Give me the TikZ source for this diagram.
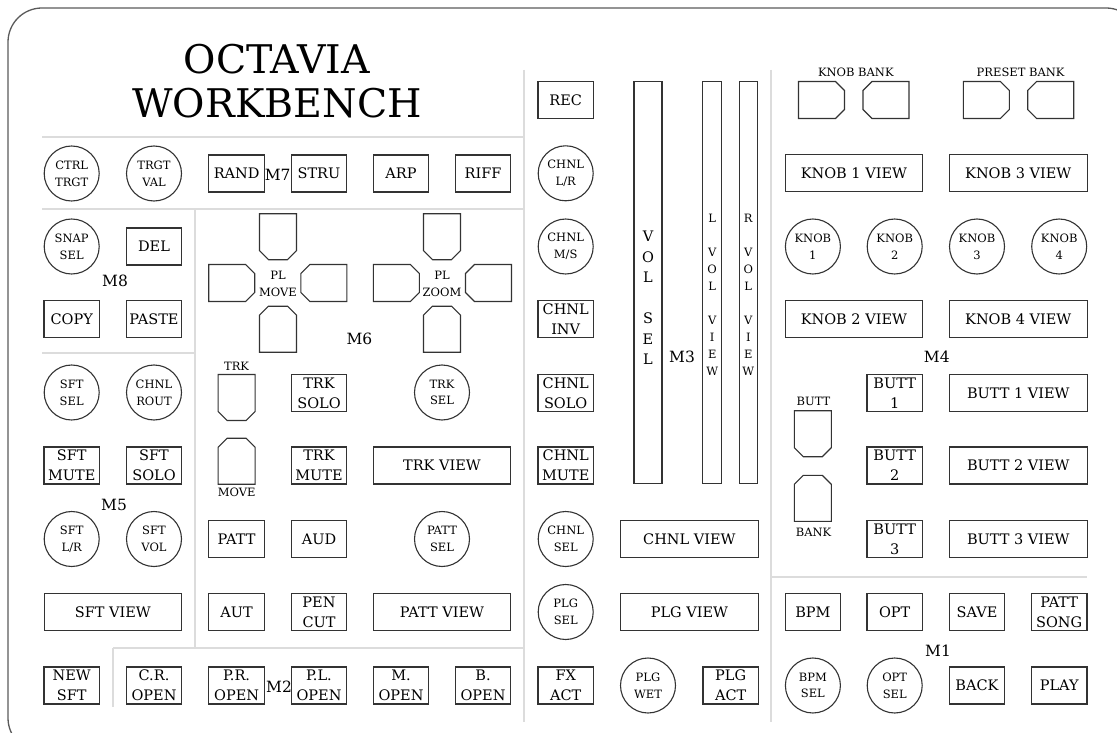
\documentclass[tikz,border=0pt]{standalone}
\usepackage{fontspec}
\setmainfont{DejaVu Serif}
\usepackage{tikz}

\definecolor{keyclr}{HTML}{333333}
\definecolor{ruleclr}{HTML}{DCDCDC}
\definecolor{rimclr}{HTML}{5A5A5A}

\begin{document}
\begin{tikzpicture}[x=1pt, y=-1pt,
    btn/.style={rectangle, draw=keyclr, line width=1.1pt, minimum width=55.5pt, minimum height=37pt, inner sep=0pt, align=center, font=\fontsize{14.5}{20}\selectfont},
    widebtn/.style={btn, minimum width=137.5pt},
    knob/.style={circle, draw=keyclr, line width=1.1pt, minimum size=55pt, inner sep=0pt, align=center, font=\fontsize{11.5}{16.7}\selectfont},
    tag/.style={inner sep=0pt, align=center, font=\fontsize{11.5}{16.7}\selectfont},
    modname/.style={inner sep=0pt, font=\fontsize{15.5}{18}\selectfont},
    fader/.style={rectangle, draw=keyclr, line width=1.1pt, minimum height=402pt, inner sep=0pt},
    faderlbl/.style={inner sep=0pt, align=center, font=\fontsize{11.5}{17}\selectfont},
    title/.style={inner sep=0pt, align=center, font=\fontsize{39.5}{43.7}\selectfont},
    sep/.style={draw=ruleclr, line width=1.5pt},
    padkey/.pic={\draw[draw=keyclr, line width=1.1pt] (-18.5,-23) -- (18.5,-23) -- (18.5,14) -- (9.5,23) -- (-9.5,23) -- (-18.5,14) -- cycle;},
]
    \useasboundingbox (0,0) rectangle (1117,733);
    \draw[rimclr, line width=1.3pt, rounded corners=34pt] (8,8) rectangle (1140,752);

    % module borders
    \draw[sep] (42,137) -- (524,137);
    \draw[sep] (42,209) -- (524,209);
    \draw[sep] (195,209) -- (195,648);
    \draw[sep] (42,353) -- (195,353);
    \draw[sep] (113,648) -- (524,648) (113,648) -- (113,707);
    \draw[sep] (524,70) -- (524,722);
    \draw[sep] (771,70) -- (771,722);
    \draw[sep] (771,577) -- (1087,577);

    \node[title] (title) at (277,81) {OCTAVIA\\WORKBENCH};

    % M7
    \node[knob] (ctrltrgt) at (71.7,173.5) {CTRL\\TRGT};
    \node[knob] (trgtval) at (154,173.5) {TRGT\\VAL};
    \node[btn] (rand) at (236.6,173.5) {RAND};
    \node[modname] (m7) at (277.7,175) {M7};
    \node[btn] (stru) at (319,173.5) {STRU};
    \node[btn] (arp) at (401,173.5) {ARP};
    \node[btn] (riff) at (483,173.5) {RIFF};

    % M8
    \node[knob] (snapsel) at (71.7,246.5) {SNAP\\SEL};
    \node[btn] (del) at (154,246.5) {DEL};
    \node[modname] (m8) at (115,281) {M8};
    \node[btn] (copy) at (71.7,319.3) {COPY};
    \node[btn] (paste) at (154,319.3) {PASTE};

    % M6
    \pic (pmup) at (278,236.7) {padkey};
    \pic[rotate=90] (pmleft) at (231.7,283) {padkey};
    \pic[rotate=-90] (pmright) at (323.8,283) {padkey};
    \pic[rotate=180] (pmdown) at (278,329.2) {padkey};
    \node[tag] (plmove) at (278,284) {PL\\MOVE};
    \pic (pzup) at (442,236.7) {padkey};
    \pic[rotate=90] (pzleft) at (396.3,283) {padkey};
    \pic[rotate=-90] (pzright) at (488.5,283) {padkey};
    \pic[rotate=180] (pzdown) at (442,329.2) {padkey};
    \node[tag] (plzoom) at (442,284) {PL\\ZOOM};
    \node[modname] (m6) at (359.4,339) {M6};

    \pic (trkkey) at (236.6,397.5) {padkey};
    \node[tag] (trk) at (236.6,366.7) {TRK};
    \pic[rotate=180] (movekey) at (236.6,461.2) {padkey};
    \node[tag] (move) at (236.6,492.7) {MOVE};
    \node[btn] (trksolo) at (319,393) {TRK\\SOLO};
    \node[knob] (trksel) at (442,392.5) {TRK\\SEL};
    \node[btn] (trkmute) at (319,465.5) {TRK\\MUTE};
    \node[widebtn] (trkview) at (442,465.5) {TRK VIEW};
    \node[btn] (patt) at (236.6,539) {PATT};
    \node[btn] (aud) at (319,539) {AUD};
    \node[knob] (pattsel) at (442,539) {PATT\\SEL};
    \node[btn] (aut) at (236.6,612) {AUT};
    \node[btn] (pencut) at (319,612) {PEN\\CUT};
    \node[widebtn] (pattview) at (442,612) {PATT VIEW};

    % M5
    \node[knob] (sftsel) at (71.7,392.5) {SFT\\SEL};
    \node[knob] (chnlrout) at (154,392.5) {CHNL\\ROUT};
    \node[btn] (sftmute) at (71.7,465.5) {SFT\\MUTE};
    \node[btn] (sftsolo) at (154,465.5) {SFT\\SOLO};
    \node[modname] (m5) at (114,505) {M5};
    \node[knob] (sftlr) at (71.7,539) {SFT\\L/R};
    \node[knob] (sftvol) at (154,539) {SFT\\VOL};
    \node[widebtn] (sftview) at (112.8,612) {SFT VIEW};
    \node[btn] (newsft) at (71.7,685.5) {NEW\\SFT};

    % M2
    \node[btn] (cropen) at (154,685.5) {C.R.\\OPEN};
    \node[btn] (propen) at (236.6,685.5) {P.R.\\OPEN};
    \node[modname] (m2) at (279,687) {M2};
    \node[btn] (plopen) at (319,685.5) {P.L.\\OPEN};
    \node[btn] (mopen) at (401,685.5) {M.\\OPEN};
    \node[btn] (bopen) at (483,685.5) {B.\\OPEN};

    % M3
    \node[btn] (rec) at (565.7,100) {REC};
    \node[knob] (chnllr) at (565.7,173.3) {CHNL\\L/R};
    \node[knob] (chnlms) at (565.7,246.5) {CHNL\\M/S};
    \node[btn] (chnlinv) at (565.7,319.3) {CHNL\\INV};
    \node[btn] (chnlsolo) at (565.7,393) {CHNL\\SOLO};
    \node[btn] (chnlmute) at (565.7,465.5) {CHNL\\MUTE};
    \node[knob] (chnlsel) at (565.7,539) {CHNL\\SEL};
    \node[knob] (plgsel) at (565.7,612) {PLG\\SEL};
    \node[btn] (fxact) at (565.7,685.5) {FX\\ACT};
    \node[fader, minimum width=28pt] (volsel) at (648,282.9) {};
    \node[fader, minimum width=19pt] (lview) at (712.2,282.9) {};
    \node[fader, minimum width=18.5pt] (rview) at (748.3,282.9) {};
    \node[faderlbl, font=\fontsize{14.5}{20.5}\selectfont] (volseltxt) at (648,298) {V\\O\\L\\\mbox{}\\S\\E\\L};
    \node[faderlbl] (lviewtxt) at (712.2,294.5) {L\\\mbox{}\\V\\O\\L\\\mbox{}\\V\\I\\E\\W};
    \node[faderlbl] (rviewtxt) at (748.3,294.5) {R\\\mbox{}\\V\\O\\L\\\mbox{}\\V\\I\\E\\W};
    \node[modname] (m3) at (682,357) {M3};
    \node[widebtn, minimum width=138.7pt] (chnlview) at (689.4,539) {CHNL VIEW};
    \node[widebtn, minimum width=138.7pt] (plgview) at (689.4,612) {PLG VIEW};
    \node[knob] (plgwet) at (648,685.5) {PLG\\WET};
    \node[btn] (plgact) at (730.7,685.5) {PLG\\ACT};

    % M4
    \node[tag] (knobbank) at (855.8,72.7) {KNOB BANK};
    \node[tag] (presetbank) at (1020.6,72.7) {PRESET BANK};
    \pic[rotate=90] (kbleft) at (821.5,100) {padkey};
    \pic[rotate=-90] (kbright) at (886,100) {padkey};
    \pic[rotate=90] (pbleft) at (986.3,100) {padkey};
    \pic[rotate=-90] (pbright) at (1050.7,100) {padkey};
    \node[widebtn] (knobaview) at (853.9,173.3) {KNOB 1 VIEW};
    \node[widebtn] (knobcview) at (1018.3,173.3) {KNOB 3 VIEW};
    \node[knob] (knoba) at (812.9,246.5) {KNOB\\1};
    \node[knob] (knobb) at (894.7,246.5) {KNOB\\2};
    \node[knob] (knobc) at (977,246.5) {KNOB\\3};
    \node[knob] (knobd) at (1059.2,246.5) {KNOB\\4};
    \node[widebtn] (knobbview) at (853.9,319.3) {KNOB 2 VIEW};
    \node[widebtn] (knobdview) at (1018.3,319.3) {KNOB 4 VIEW};
    \node[modname] (m4) at (936.8,356.7) {M4};
    \node[tag] (butt) at (813.5,401.5) {BUTT};
    \pic (buttkey) at (812.8,433.7) {padkey};
    \pic[rotate=180] (bankkey) at (812.8,498.3) {padkey};
    \node[tag] (bank) at (813.5,532.5) {BANK};
    \node[btn] (butta) at (894.7,393) {BUTT\\1};
    \node[widebtn] (buttaview) at (1018.3,393) {BUTT 1 VIEW};
    \node[btn] (buttb) at (894.7,465.5) {BUTT\\2};
    \node[widebtn] (buttbview) at (1018.3,465.5) {BUTT 2 VIEW};
    \node[btn] (buttc) at (894.7,539) {BUTT\\3};
    \node[widebtn] (buttcview) at (1018.3,539) {BUTT 3 VIEW};

    % M1
    \node[btn] (bpm) at (812.9,612) {BPM};
    \node[btn] (opt) at (894.7,612) {OPT};
    \node[btn] (save) at (977,612) {SAVE};
    \node[btn] (pattsong) at (1059.2,612) {PATT\\SONG};
    \node[modname] (m1) at (938,651) {M1};
    \node[knob] (bpmsel) at (812.9,685.5) {BPM\\SEL};
    \node[knob] (optsel) at (894.7,685.5) {OPT\\SEL};
    \node[btn] (back) at (977,685.5) {BACK};
    \node[btn] (play) at (1059.2,685.5) {PLAY};
\end{tikzpicture}
\end{document}
